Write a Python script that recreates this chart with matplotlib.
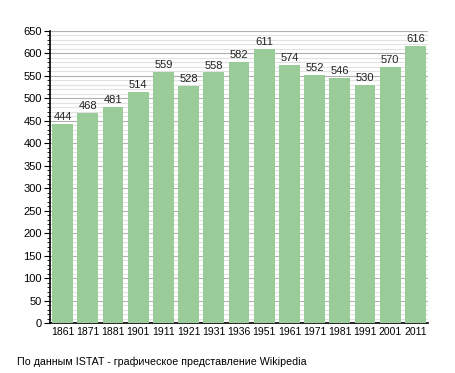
import matplotlib
matplotlib.use('Agg')
import matplotlib.pyplot as plt
from matplotlib.ticker import MultipleLocator

years = ['1861', '1871', '1881', '1901', '1911', '1921', '1931', '1936',
         '1951', '1961', '1971', '1981', '1991', '2001', '2011']
population = [444, 468, 481, 514, 559, 528, 558, 582, 611, 574, 552, 546, 530, 570, 616]

plt.rcParams['font.family'] = ['Liberation Sans', 'DejaVu Sans']

fig = plt.figure(figsize=(4.55, 3.73), dpi=100)
ax = fig.add_axes([50 / 455, 50 / 373, 378 / 455, 292 / 373])

x = range(len(years))
bars = ax.bar(x, population, width=0.83, color='#99cc99', zorder=3)
for xi, v in zip(x, population):
    ax.text(xi, v + 4, str(v), ha='center', va='bottom', fontsize=8, color='#222222', zorder=4)

ax.set_xlim(-0.5, len(years) - 0.5)
ax.set_ylim(0, 650)
ax.set_xticks(list(x))
ax.set_xticklabels(years)
ax.yaxis.set_major_locator(MultipleLocator(50))
ax.yaxis.set_minor_locator(MultipleLocator(10))
ax.grid(axis='y', which='major', color='#b0b0b0', linewidth=0.8, zorder=1)
ax.grid(axis='y', which='minor', color='#e2e2e2', linewidth=0.8, zorder=0)

for s in ['top', 'right']:
    ax.spines[s].set_visible(False)
ax.spines['left'].set_linewidth(1.2)
ax.spines['bottom'].set_linewidth(1.2)
ax.tick_params(axis='y', which='major', length=4, labelsize=8, pad=2)
ax.tick_params(axis='y', which='minor', length=2)
ax.tick_params(axis='x', length=0, labelsize=7.5, pad=3)

fig.text(17 / 455, 1 - 362 / 373, 'По данным ISTAT - графическое представление Wikipedia',
         fontsize=7.7, va='center', ha='left')

fig.savefig('out.png', dpi=100)
